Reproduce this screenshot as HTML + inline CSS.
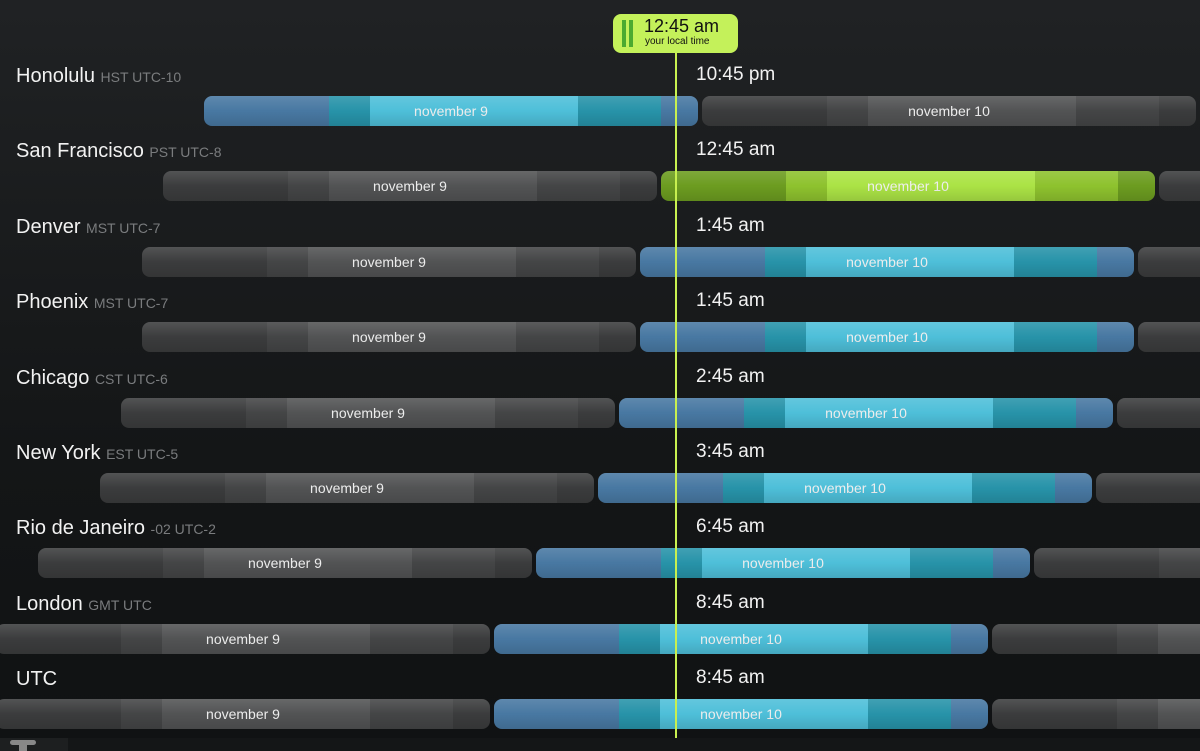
<!DOCTYPE html>
<html><head><meta charset="utf-8"><style>
html,body{margin:0;padding:0}
body{width:1200px;height:751px;overflow:hidden;position:relative;background:linear-gradient(#202224,#141617 60%,#101213);font-family:"Liberation Sans",sans-serif}
#c{position:absolute;left:0;top:0;width:1200px;height:751px;overflow:hidden}
.city{position:absolute;left:16px;color:#f2f2f2;font-size:20px;white-space:nowrap}
.city span{color:#7a7c7e;font-size:14px}
.time{position:absolute;left:696px;color:#f2f2f2;font-size:19px}
.bar{position:absolute;height:30px;border-radius:8px;overflow:hidden}
.bar .s{position:absolute;top:0;height:100%}
.bar .lbl{position:absolute;left:0;right:0;top:0;line-height:30px;text-align:center;color:#eee;font-size:14px}
.bar:after{content:"";position:absolute;inset:0;background:linear-gradient(rgba(255,255,255,.12),rgba(255,255,255,0) 50%,rgba(0,0,0,.12))}
</style></head><body>
<div id="c"></div>
<div style="position:absolute;left:675px;top:50px;width:2px;height:688px;background:#c8f050"></div>
<div style="position:absolute;left:613px;top:14px;width:125px;height:39px;border-radius:8px;background:#c4f15a">
 <div style="position:absolute;left:9px;top:6px;width:4px;height:27px;background:#4caa30"></div>
 <div style="position:absolute;left:16px;top:6px;width:4px;height:27px;background:#4caa30"></div>
 <div style="position:absolute;left:31px;top:2px;font-size:18px;color:#111">12:45 am</div>
 <div style="position:absolute;left:32px;top:22px;font-size:10px;color:#111">your local time</div>
</div>
<div style="position:absolute;left:0;top:738px;width:1200px;height:13px;background:#141617"></div>
<div style="position:absolute;left:0;top:738px;width:68px;height:13px;background:#1d1f20"></div>
<div style="position:absolute;left:10px;top:740px;width:26px;height:5px;border-radius:3px;background:#888"></div>
<div style="position:absolute;left:19px;top:743px;width:8px;height:8px;background:#888"></div>
<script>
var rows=[["Honolulu","HST UTC-10","10:45 pm",204],["San Francisco","PST UTC-8","12:45 am",163],["Denver","MST UTC-7","1:45 am",142],["Phoenix","MST UTC-7","1:45 am",142],["Chicago","CST UTC-6","2:45 am",121],["New York","EST UTC-5","3:45 am",100],["Rio de Janeiro","-02 UTC-2","6:45 am",38],["London","GMT UTC","8:45 am",-4],["UTC","","8:45 am",-4]];
var H=20.75,D=498,h="";
var pal={g:["#3b3c3d","#444546","#525354"],b:["#4878a2","#2793a9","#4ebfd9"],l:["#6c9c20","#8ec22e","#abe345"]};
rows.forEach(function(r,i){
 var y=96+i*75.4;
 h+='<div class="city" style="top:'+(y-31)+'px">'+r[0]+(r[1]?' <span>'+r[1]+'</span>':'')+'</div>';
 h+='<div class="time" style="top:'+(y-32)+'px">'+r[2]+'</div>';
 for(var d=0;d<=2;d++){
  var x0=r[3]+d*D, w=494; if(x0>1200)continue;
  var cur=(d==0&&i==0)||(d==1&&i>0);
  var p=cur?(i==1?pal.l:pal.b):pal.g;
  var segs=[[0,6,0],[6,8,1],[8,18,2],[18,22,1],[22,24,0]];
  h+='<div class="bar" style="left:'+x0+'px;top:'+y+'px;width:'+w+'px">';
  segs.forEach(function(s){h+='<div class="s" style="left:'+(s[0]*H)+'px;width:'+((s[1]-s[0])*H+1)+'px;background:'+p[s[2]]+'"></div>'});
  if(d<2)h+='<div class="lbl">november '+(9+d)+'</div>';
  h+='</div>';
 }
});
document.getElementById("c").innerHTML=h;
</script>
</body></html>
